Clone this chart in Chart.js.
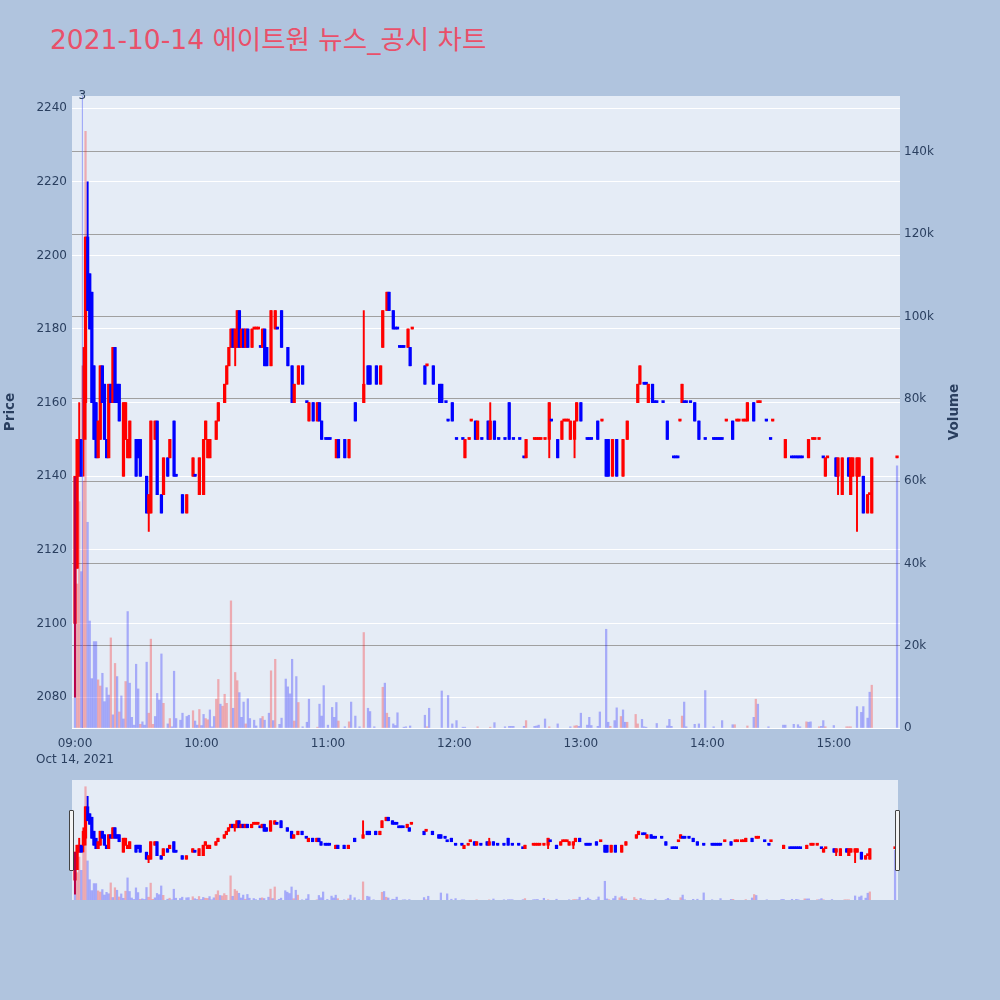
<!DOCTYPE html>
<html>
<head>
<meta charset="utf-8">
<title>에이트원 뉴스_공시 차트</title>
<script src="https://cdn.jsdelivr.net/npm/chart.js@4.4.1/dist/chart.umd.min.js"></script>
<style>
  html, body { margin: 0; padding: 0; }
  body { width: 1000px; height: 1000px; background: #b0c4de; position: relative; overflow: hidden;
         font-family: "DejaVu Sans", "Noto Sans CJK KR", sans-serif; }
  #title { position: absolute; left: 50px; top: 24px; font-size: 26.5px; color: #e9506a;
           white-space: nowrap; line-height: 1.2; }
  #main { position: absolute; left: 0; top: 0; }
  #nav { position: absolute; left: 72px; top: 780px; background: #e5ecf6; }
  .handle { position: absolute; top: 810px; width: 5px; height: 61px; box-sizing: border-box;
            border: 1px solid #444; background: #f4f4f4; border-radius: 1px; }
</style>
</head>
<body>
<div id="title">2021-10-14 에이트원 뉴스_공시 차트</div>
<canvas id="main" width="1000" height="770"></canvas>
<canvas id="nav" width="826" height="120"></canvas>
<div class="handle" style="left:69px"></div>
<div class="handle" style="left:895px"></div>
<script>
(function () {
    'use strict';

    // 1-minute candles, x = minutes after 09:00
    const candleMin = [
        0, 1, 2, 3, 4, 5, 6, 7, 8, 9,
        10, 11, 12, 13, 14, 15, 16, 17, 18, 19,
        20, 21, 23, 24, 25, 26, 29, 30, 31, 34,
        35, 36, 38, 39, 41, 42, 44, 45, 47, 48,
        51, 53, 56, 57, 59, 61, 62, 63, 64, 67,
        68, 71, 72, 73, 74, 75, 76, 77, 78, 79,
        80, 81, 82, 84, 85, 86, 87, 88, 89, 90,
        91, 93, 95, 96, 98, 101, 103, 104, 106, 108,
        110, 111, 113, 115, 116, 117, 119, 120, 121, 124,
        125, 128, 130, 133, 137, 139, 140, 143, 145, 146,
        148, 149, 151, 152, 153, 154, 155, 156, 158, 159,
        160, 166, 167, 170, 173, 174, 176, 177, 179, 181,
        184, 185, 187, 188, 190, 191, 193, 196, 197, 199,
        201, 204, 206, 208, 211, 213, 214, 218, 219, 220,
        221, 223, 225, 226, 229, 231, 232, 233, 234, 235,
        237, 238, 240, 243, 244, 245, 248, 250, 252, 253,
        255, 257, 260, 262, 267, 268, 270, 271, 272, 274,
        275, 276, 279, 281, 284, 285, 286, 287, 288, 289,
        290, 292, 294, 296, 299, 303, 304, 305, 306, 307,
        309, 312, 314, 315, 317, 318, 319, 322, 324, 325,
        328, 330, 331, 337, 340, 341, 342, 343, 344, 345,
        348, 350, 351, 353, 355, 356, 357, 361, 362, 364,
        367, 368, 369, 371, 372, 374, 376, 377, 378, 390
    ];
    const candleOpen = [
        2100, 2115, 2140, 2150, 2150, 2160, 2205, 2195, 2190, 2170,
        2160, 2145, 2150, 2170, 2165, 2150, 2145, 2165, 2160, 2175,
        2165, 2165, 2140, 2150, 2145, 2145, 2150, 2150, 2150, 2140,
        2130, 2130, 2150, 2155, 2135, 2135, 2145, 2145, 2155, 2140,
        2135, 2130, 2140, 2140, 2135, 2135, 2150, 2145, 2145, 2150,
        2155, 2160, 2165, 2170, 2175, 2180, 2175, 2175, 2185, 2175,
        2180, 2175, 2180, 2175, 2180, 2180, 2180, 2175, 2175, 2180,
        2175, 2170, 2180, 2180, 2185, 2175, 2170, 2160, 2165, 2170,
        2160, 2155, 2160, 2155, 2160, 2155, 2150, 2150, 2150, 2145,
        2150, 2150, 2145, 2160, 2160, 2170, 2170, 2170, 2165, 2175,
        2185, 2190, 2185, 2180, 2180, 2175, 2175, 2175, 2175, 2175,
        2180, 2170, 2170, 2170, 2165, 2165, 2160, 2155, 2160, 2150,
        2150, 2145, 2150, 2155, 2155, 2150, 2150, 2155, 2150, 2155,
        2150, 2150, 2160, 2150, 2150, 2145, 2145, 2150, 2150, 2150,
        2150, 2150, 2150, 2155, 2150, 2150, 2155, 2155, 2155, 2150,
        2150, 2155, 2160, 2150, 2150, 2150, 2155, 2155, 2150, 2150,
        2140, 2150, 2140, 2150, 2160, 2165, 2165, 2165, 2160, 2165,
        2160, 2160, 2160, 2155, 2145, 2145, 2145, 2155, 2160, 2160,
        2160, 2160, 2160, 2155, 2150, 2150, 2150, 2150, 2150, 2150,
        2155, 2155, 2155, 2155, 2155, 2155, 2155, 2160, 2160, 2160,
        2155, 2150, 2155, 2145, 2145, 2145, 2145, 2145, 2145, 2145,
        2145, 2150, 2150, 2150, 2145, 2140, 2145, 2145, 2140, 2135,
        2145, 2135, 2140, 2140, 2140, 2140, 2130, 2135, 2130, 2145
    ];
    const candleHigh = [
        2140, 2150, 2160, 2150, 2175, 2205, 2220, 2195, 2190, 2170,
        2160, 2155, 2170, 2170, 2165, 2150, 2165, 2165, 2175, 2175,
        2165, 2165, 2160, 2160, 2150, 2155, 2150, 2150, 2150, 2140,
        2135, 2155, 2155, 2155, 2135, 2145, 2145, 2150, 2155, 2140,
        2135, 2135, 2145, 2140, 2145, 2150, 2155, 2150, 2150, 2155,
        2160, 2165, 2170, 2175, 2180, 2180, 2180, 2185, 2185, 2180,
        2180, 2180, 2180, 2180, 2180, 2180, 2180, 2175, 2180, 2180,
        2175, 2185, 2185, 2180, 2185, 2175, 2170, 2165, 2170, 2170,
        2160, 2160, 2160, 2160, 2160, 2155, 2150, 2150, 2150, 2150,
        2150, 2150, 2150, 2160, 2185, 2170, 2170, 2170, 2170, 2185,
        2190, 2190, 2185, 2180, 2180, 2175, 2175, 2175, 2180, 2175,
        2180, 2170, 2170, 2170, 2165, 2165, 2160, 2155, 2160, 2150,
        2150, 2150, 2150, 2155, 2155, 2155, 2150, 2155, 2160, 2155,
        2150, 2150, 2160, 2150, 2150, 2145, 2150, 2150, 2150, 2150,
        2150, 2150, 2160, 2155, 2150, 2155, 2155, 2155, 2155, 2155,
        2155, 2160, 2160, 2150, 2150, 2150, 2155, 2155, 2150, 2150,
        2150, 2150, 2150, 2155, 2165, 2170, 2165, 2165, 2165, 2165,
        2160, 2160, 2160, 2155, 2145, 2145, 2145, 2155, 2165, 2160,
        2160, 2160, 2160, 2155, 2150, 2150, 2150, 2150, 2150, 2150,
        2155, 2155, 2155, 2155, 2155, 2155, 2160, 2160, 2160, 2160,
        2155, 2150, 2155, 2150, 2145, 2145, 2145, 2145, 2145, 2145,
        2150, 2150, 2150, 2150, 2145, 2145, 2145, 2145, 2145, 2145,
        2145, 2145, 2145, 2145, 2145, 2140, 2135, 2135, 2145, 2145
    ];
    const candleLow = [
        2080, 2115, 2140, 2140, 2140, 2150, 2185, 2180, 2160, 2150,
        2145, 2145, 2150, 2160, 2150, 2145, 2145, 2160, 2160, 2160,
        2160, 2155, 2140, 2150, 2145, 2145, 2140, 2145, 2140, 2130,
        2125, 2130, 2150, 2135, 2130, 2135, 2140, 2145, 2140, 2140,
        2130, 2130, 2140, 2140, 2135, 2135, 2150, 2145, 2145, 2150,
        2155, 2160, 2165, 2170, 2175, 2175, 2170, 2175, 2175, 2175,
        2175, 2175, 2175, 2175, 2180, 2180, 2180, 2175, 2175, 2170,
        2170, 2170, 2180, 2180, 2175, 2170, 2160, 2160, 2165, 2165,
        2160, 2155, 2155, 2155, 2155, 2150, 2150, 2150, 2150, 2145,
        2145, 2145, 2145, 2155, 2160, 2165, 2165, 2165, 2165, 2175,
        2185, 2185, 2180, 2180, 2180, 2175, 2175, 2175, 2175, 2170,
        2180, 2165, 2170, 2165, 2160, 2160, 2160, 2155, 2155, 2150,
        2150, 2145, 2150, 2155, 2150, 2150, 2150, 2150, 2150, 2150,
        2150, 2150, 2150, 2150, 2150, 2145, 2145, 2150, 2150, 2150,
        2150, 2150, 2145, 2155, 2145, 2150, 2155, 2155, 2155, 2150,
        2145, 2155, 2155, 2150, 2150, 2150, 2150, 2155, 2140, 2140,
        2140, 2140, 2140, 2150, 2160, 2165, 2165, 2165, 2160, 2160,
        2160, 2160, 2160, 2150, 2145, 2145, 2145, 2155, 2160, 2160,
        2160, 2160, 2155, 2150, 2150, 2150, 2150, 2150, 2150, 2150,
        2155, 2150, 2155, 2155, 2155, 2155, 2155, 2155, 2160, 2160,
        2155, 2150, 2155, 2145, 2145, 2145, 2145, 2145, 2145, 2145,
        2145, 2150, 2150, 2150, 2145, 2140, 2145, 2140, 2135, 2135,
        2140, 2135, 2140, 2125, 2140, 2130, 2130, 2135, 2130, 2145
    ];
    const candleClose = [
        2140, 2150, 2150, 2140, 2170, 2205, 2185, 2180, 2160, 2150,
        2145, 2155, 2170, 2160, 2150, 2145, 2165, 2160, 2175, 2160,
        2160, 2155, 2160, 2160, 2150, 2155, 2140, 2145, 2140, 2130,
        2135, 2155, 2155, 2135, 2130, 2145, 2140, 2150, 2140, 2140,
        2130, 2135, 2145, 2140, 2145, 2150, 2155, 2150, 2150, 2155,
        2160, 2165, 2170, 2175, 2180, 2175, 2180, 2185, 2175, 2180,
        2175, 2180, 2175, 2180, 2180, 2180, 2180, 2175, 2180, 2170,
        2170, 2185, 2185, 2180, 2175, 2170, 2160, 2165, 2170, 2165,
        2160, 2160, 2155, 2160, 2155, 2150, 2150, 2150, 2150, 2150,
        2145, 2145, 2150, 2155, 2165, 2165, 2165, 2165, 2170, 2185,
        2190, 2185, 2180, 2180, 2180, 2175, 2175, 2175, 2180, 2170,
        2180, 2165, 2170, 2165, 2160, 2160, 2160, 2155, 2155, 2150,
        2150, 2150, 2150, 2155, 2150, 2155, 2150, 2150, 2155, 2150,
        2150, 2150, 2150, 2150, 2150, 2145, 2150, 2150, 2150, 2150,
        2150, 2150, 2160, 2155, 2145, 2155, 2155, 2155, 2155, 2155,
        2155, 2160, 2155, 2150, 2150, 2150, 2150, 2155, 2140, 2140,
        2150, 2140, 2150, 2155, 2165, 2170, 2165, 2165, 2165, 2160,
        2160, 2160, 2160, 2150, 2145, 2145, 2145, 2155, 2165, 2160,
        2160, 2160, 2155, 2150, 2150, 2150, 2150, 2150, 2150, 2150,
        2155, 2150, 2155, 2155, 2155, 2155, 2160, 2155, 2160, 2160,
        2155, 2150, 2155, 2150, 2145, 2145, 2145, 2145, 2145, 2145,
        2150, 2150, 2150, 2150, 2145, 2145, 2145, 2140, 2145, 2145,
        2140, 2145, 2145, 2145, 2145, 2130, 2135, 2135, 2145, 2145
    ];

    // volume bars (shares), 1 = up minute, 0 = down minute
    const volMin = [
        0, 1, 2, 3, 4, 5, 6, 7, 8, 9,
        10, 11, 12, 13, 14, 15, 16, 17, 18, 19,
        20, 21, 22, 23, 24, 25, 26, 27, 28, 29,
        30, 31, 32, 33, 34, 35, 36, 37, 38, 39,
        40, 41, 42, 44, 45, 46, 47, 48, 50, 51,
        53, 54, 56, 57, 58, 59, 60, 61, 62, 63,
        64, 65, 66, 67, 68, 69, 70, 71, 72, 74,
        75, 76, 77, 78, 79, 80, 81, 82, 83, 85,
        86, 88, 89, 90, 92, 93, 94, 95, 97, 98,
        100, 101, 102, 103, 104, 105, 106, 108, 110, 111,
        115, 116, 117, 118, 120, 122, 123, 124, 125, 128,
        130, 131, 133, 135, 137, 139, 140, 142, 146, 147,
        148, 149, 151, 152, 153, 156, 157, 159, 166, 167,
        168, 174, 177, 179, 181, 184, 185, 191, 197, 199,
        204, 206, 207, 208, 213, 214, 218, 219, 220, 223,
        225, 229, 235, 237, 238, 239, 240, 243, 244, 245,
        248, 249, 252, 253, 254, 256, 257, 259, 260, 261,
        262, 266, 267, 269, 270, 271, 276, 281, 282, 283,
        288, 289, 290, 294, 296, 299, 303, 307, 312, 313,
        319, 322, 323, 324, 329, 336, 337, 341, 343, 344,
        347, 348, 349, 353, 354, 355, 356, 360, 366, 367,
        368, 371, 373, 374, 376, 377, 378, 390
    ];
    const volAmt = [
        61000, 35000, 55000, 38000, 60000, 145000, 50000, 26000, 12000, 21000,
        21000, 11700, 10200, 13300, 6400, 9800, 8000, 21900, 3200, 15700,
        12500, 3900, 7800, 2200, 11300, 28300, 10900, 2600, 700, 15500,
        9500, 900, 1500, 700, 16000, 3600, 21600, 900, 2800, 8400,
        6800, 18000, 6000, 1000, 2300, 300, 13800, 2300, 1900, 3600,
        2800, 3100, 4200, 1700, 700, 4500, 600, 3300, 2300, 2000,
        4400, 300, 2800, 7000, 11800, 5800, 5300, 8200, 6000, 30900,
        4800, 13500, 11500, 8600, 2600, 6300, 1000, 7100, 2300, 1900,
        500, 2300, 2800, 1900, 3600, 13900, 1800, 16700, 900, 2400,
        11900, 10000, 8300, 16700, 1700, 12500, 6200, 300, 1400, 7000,
        200, 5800, 2900, 10300, 700, 5000, 2600, 6200, 1700, 300,
        1500, 6300, 2900, 300, 23200, 4800, 4000, 300, 9900, 10900,
        3600, 2600, 1000, 600, 3700, 200, 300, 500, 3100, 300,
        4800, 9000, 7900, 1000, 1800, 200, 200, 300, 200, 1300,
        300, 400, 400, 400, 400, 1800, 400, 500, 700, 2200,
        300, 1000, 300, 500, 600, 400, 3600, 700, 2600, 600,
        400, 3900, 24000, 1400, 400, 1800, 4900, 2800, 4400, 1400,
        1400, 3300, 1000, 2100, 300, 200, 1100, 500, 2100, 400,
        2900, 6300, 300, 900, 1000, 9100, 300, 1800, 800, 800,
        500, 2600, 7000, 5800, 300, 700, 700, 900, 800, 300,
        1500, 1400, 1500, 300, 400, 1800, 300, 600, 300, 300,
        300, 5200, 3800, 5200, 2400, 8700, 10400, 63700
    ];
    const volUp = [
        0, 1, 1, 0, 1, 1, 0, 0, 0, 0,
        0, 1, 1, 0, 0, 0, 0, 1, 0, 1,
        0, 1, 0, 0, 1, 0, 0, 0, 0, 0,
        0, 1, 0, 0, 0, 1, 1, 1, 0, 0,
        0, 0, 1, 0, 1, 0, 0, 0, 0, 0,
        0, 0, 1, 0, 0, 1, 0, 0, 1, 1,
        0, 0, 0, 1, 1, 0, 1, 1, 1, 1,
        0, 1, 1, 0, 0, 0, 1, 0, 0, 0,
        0, 0, 1, 0, 0, 1, 0, 1, 0, 0,
        0, 0, 0, 0, 1, 0, 1, 0, 0, 0,
        1, 0, 0, 0, 0, 0, 0, 0, 1, 0,
        1, 0, 0, 0, 1, 0, 0, 0, 1, 0,
        1, 0, 0, 0, 0, 0, 0, 0, 0, 1,
        0, 0, 0, 0, 0, 0, 0, 1, 1, 0,
        0, 0, 0, 0, 0, 1, 0, 0, 0, 0,
        1, 0, 0, 1, 1, 0, 0, 0, 0, 0,
        0, 0, 0, 0, 1, 0, 0, 1, 0, 0,
        1, 1, 1, 0, 0, 0, 0, 0, 0, 0,
        1, 0, 0, 0, 0, 0, 0, 0, 0, 1,
        1, 0, 1, 0, 0, 0, 0, 0, 0, 0,
        1, 0, 0, 1, 0, 0, 1, 0, 1, 1,
        1, 0, 0, 0, 0, 0, 1, 0
    ];

    // news marker (count of items) and axis ticks
    const newsMin = 3.5;
    const newsLabel = '3';
    const timeTicks = [0, 60, 120, 180, 240, 300, 360];
    const timeLabels = ['09:00', '10:00', '11:00', '12:00', '13:00', '14:00', '15:00'];
    const dateLabel = 'Oct 14, 2021';
    const priceTicks = [2080, 2100, 2120, 2140, 2160, 2180, 2200, 2220, 2240];
    const volTicks = [0, 20000, 40000, 60000, 80000, 100000, 120000, 140000];
    const volLabels = ['0', '20k', '40k', '60k', '80k', '100k', '120k', '140k'];

    const X_MIN = -1.42, X_MAX = 391.4;
    const P_MIN = 2071.6, P_MAX = 2243.3;
    const V_MAX = 153600;

    const UP = '#ff0000', DOWN = '#0000ff';
    const UP_VOL = 'rgba(255,0,0,0.28)', DOWN_VOL = 'rgba(0,0,255,0.28)';
    const TEXT = '#2a3f5f';

    Chart.defaults.font.family = '"DejaVu Sans", Verdana, sans-serif';
    Chart.defaults.font.size = 12;
    Chart.defaults.color = TEXT;

    // flat candle: direction from previous close, else keep previous direction
    const candleUp = [];
    candleClose.forEach(function (c, i) {
        const o = candleOpen[i];
        let up;
        if (c !== o) up = c > o;
        else if (i > 0 && c !== candleClose[i - 1]) up = c > candleClose[i - 1];
        else up = i > 0 ? candleUp[i - 1] : true;
        candleUp.push(up);
    });
    const candleColor = candleUp.map(function (u) { return u ? UP : DOWN; });

    function makeDatasets() {
        return [{
            label: 'Volume',
            yAxisID: 'yv',
            order: 0,
            grouped: false,
            barThickness: 1.6,
            data: volMin.map(function (m, i) { return { x: m, y: volAmt[i] }; }),
            backgroundColor: volUp.map(function (u) { return u ? UP_VOL : DOWN_VOL; })
        }, {
            label: 'Body',
            yAxisID: 'y',
            order: 1,
            grouped: false,
            barThickness: 2.6,
            minBarLength: 2,
            data: candleMin.map(function (m, i) { return { x: m, y: [candleOpen[i], candleClose[i]] }; }),
            backgroundColor: candleColor
        }, {
            label: 'Wick',
            yAxisID: 'y',
            order: 2,
            grouped: false,
            barThickness: 1.3,
            data: candleMin.map(function (m, i) { return { x: m, y: [candleLow[i], candleHigh[i]] }; }),
            backgroundColor: candleColor
        }];
    }

    const plotBg = {
        id: 'plotBg',
        beforeDraw: function (chart) {
            const a = chart.chartArea;
            const ctx = chart.ctx;
            ctx.save();
            ctx.fillStyle = '#e5ecf6';
            ctx.fillRect(a.left, a.top, a.right - a.left, a.bottom - a.top);
            ctx.restore();
        }
    };

    const newsLine = {
        id: 'newsLine',
        afterDatasetsDraw: function (chart) {
            const a = chart.chartArea;
            const ctx = chart.ctx;
            const px = chart.scales.x.getPixelForValue(newsMin);
            ctx.save();
            ctx.strokeStyle = 'rgba(99,110,250,0.6)';
            ctx.lineWidth = 1;
            ctx.beginPath();
            ctx.moveTo(px, a.top);
            ctx.lineTo(px, a.bottom);
            ctx.stroke();
            ctx.fillStyle = TEXT;
            ctx.font = '12px "DejaVu Sans", sans-serif';
            ctx.textAlign = 'center';
            ctx.textBaseline = 'middle';
            ctx.fillText(newsLabel, px, a.top);
            ctx.restore();
        }
    };

    const axisTitles = {
        id: 'axisTitles',
        afterDraw: function (chart) {
            const a = chart.chartArea;
            const ctx = chart.ctx;
            const mid = (a.top + a.bottom) / 2;
            ctx.save();
            ctx.fillStyle = TEXT;
            ctx.font = 'bold 13.5px "DejaVu Sans", sans-serif';
            ctx.textAlign = 'center';
            ctx.textBaseline = 'middle';
            [['Price', 10], ['Volume', 954]].forEach(function (t) {
                ctx.save();
                ctx.translate(t[1], mid);
                ctx.rotate(-Math.PI / 2);
                ctx.fillText(t[0], 0, 0);
                ctx.restore();
            });
            ctx.restore();
        }
    };

    new Chart(document.getElementById('main'), {
        type: 'bar',
        data: { datasets: makeDatasets() },
        options: {
            responsive: false,
            animation: false,
            devicePixelRatio: 1,
            events: [],
            layout: { padding: { top: 96, left: 0, right: 0, bottom: 0 } },
            plugins: { legend: { display: false }, tooltip: { enabled: false } },
            scales: {
                x: {
                    type: 'linear', min: X_MIN, max: X_MAX, offset: false,
                    grid: { display: false }, border: { display: false },
                    afterBuildTicks: function (s) { s.ticks = timeTicks.map(function (v) { return { value: v }; }); },
                    afterFit: function (s) { s.height = 42; },
                    ticks: {
                        autoSkip: false, maxRotation: 0, padding: 0,
                        font: { size: 12, lineHeight: 1.3 },
                        callback: function (v) {
                            const i = timeTicks.indexOf(v);
                            return i === 0 ? [timeLabels[i], dateLabel] : timeLabels[i];
                        }
                    }
                },
                y: {
                    type: 'linear', position: 'left', min: P_MIN, max: P_MAX,
                    grid: { color: '#ffffff', drawTicks: false }, border: { display: false },
                    afterBuildTicks: function (s) { s.ticks = priceTicks.map(function (v) { return { value: v }; }); },
                    afterFit: function (s) { s.width = 72; },
                    ticks: { padding: 5, callback: function (v) { return String(v); } }
                },
                yv: {
                    type: 'linear', position: 'right', min: 0, max: V_MAX,
                    grid: {
                        drawTicks: false,
                        color: function (c) { return c.tick && c.tick.value === 0 ? '#ffffff' : '#a0a0a0'; }
                    },
                    border: { display: false },
                    afterBuildTicks: function (s) { s.ticks = volTicks.map(function (v) { return { value: v }; }); },
                    afterFit: function (s) { s.width = 100; },
                    ticks: { padding: 4, callback: function (v) { return volLabels[volTicks.indexOf(v)]; } }
                }
            }
        },
        plugins: [plotBg, newsLine, axisTitles]
    });

    // range slider preview
    new Chart(document.getElementById('nav'), {
        type: 'bar',
        data: { datasets: makeDatasets() },
        options: {
            responsive: false,
            animation: false,
            devicePixelRatio: 1,
            events: [],
            layout: { padding: 0 },
            plugins: { legend: { display: false }, tooltip: { enabled: false } },
            scales: {
                x: { type: 'linear', display: false, min: X_MIN, max: X_MAX, offset: false },
                y: { type: 'linear', display: false, min: P_MIN, max: P_MAX },
                yv: { type: 'linear', display: false, min: 0, max: V_MAX }
            }
        }
    });
})();
</script>
</body>
</html>
